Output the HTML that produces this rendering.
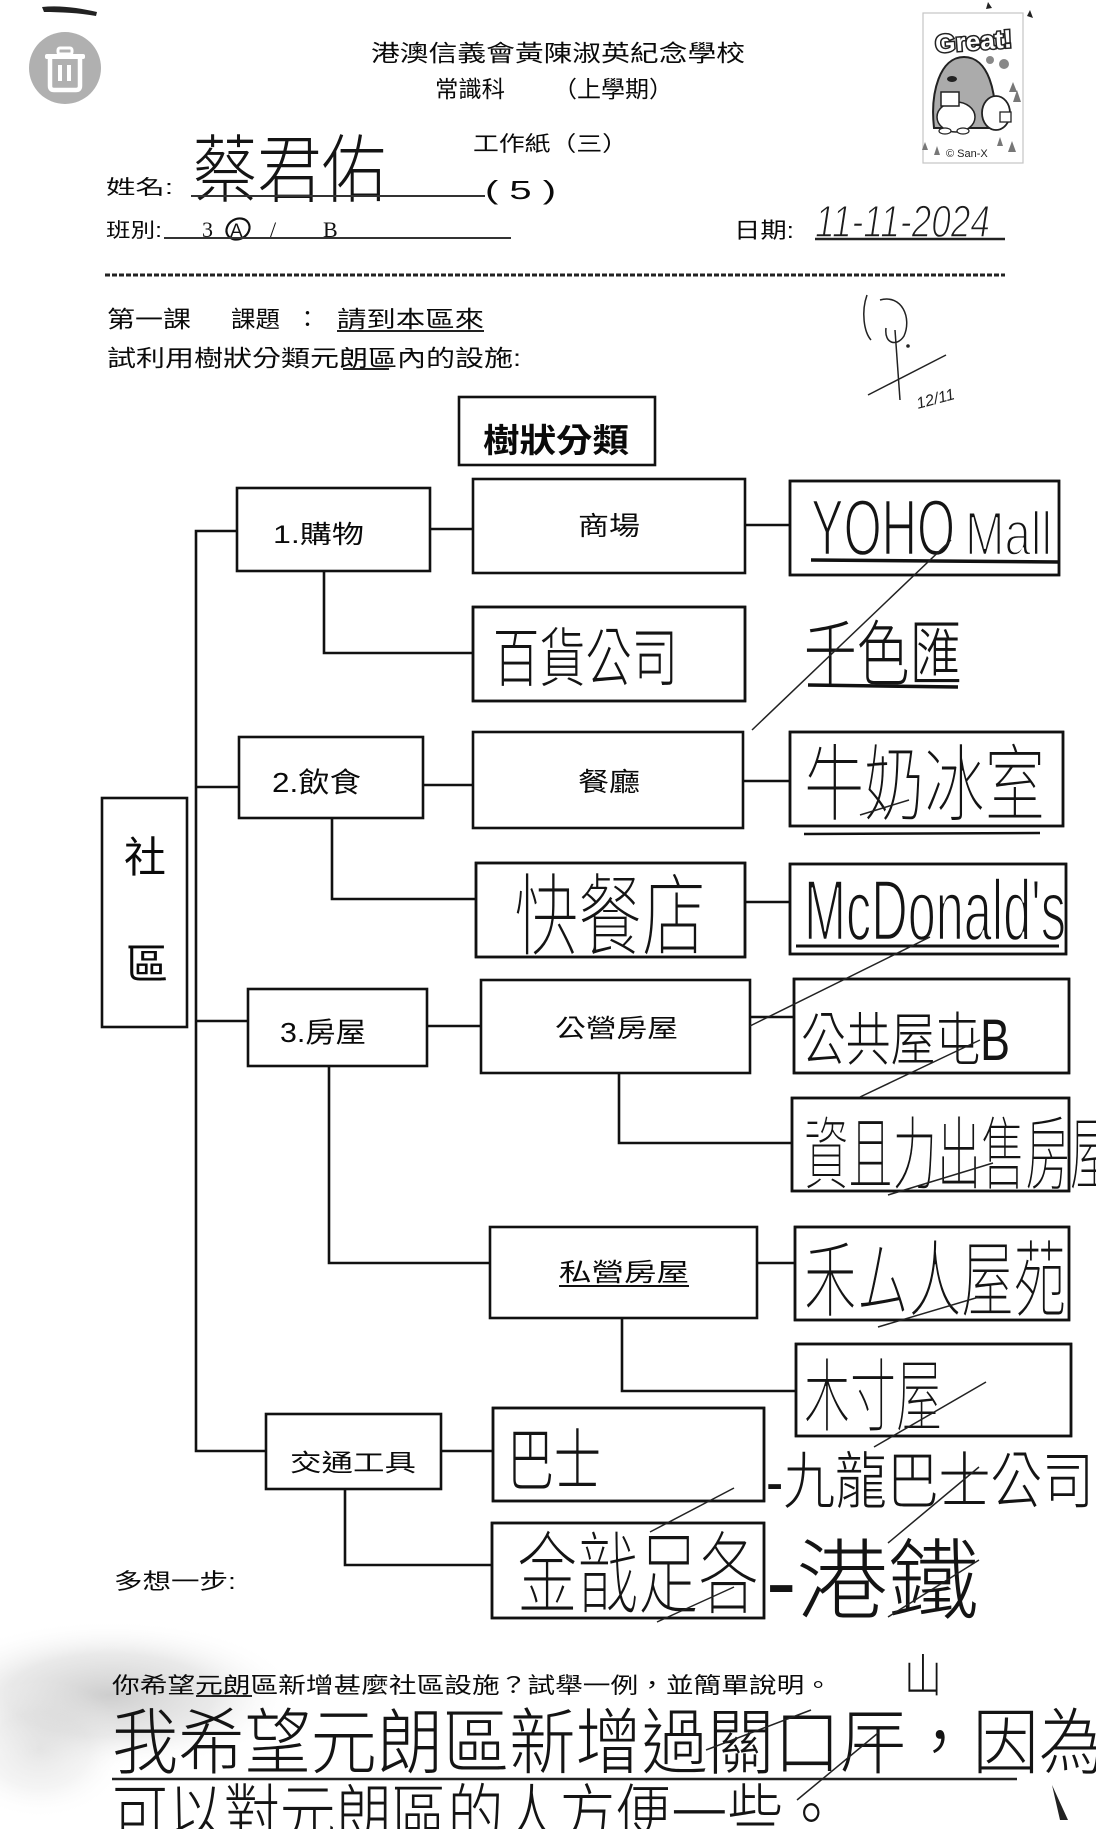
<!DOCTYPE html>
<html><head><meta charset="utf-8">
<style>
html,body{margin:0;padding:0;background:#fff;}
body{width:1096px;height:1829px;overflow:hidden;}
svg{display:block;}
.p{font-family:"Liberation Sans","Noto Sans CJK TC",sans-serif;fill:#0a0a0a;}
.h{font-family:"Liberation Sans","Noto Sans CJK TC",sans-serif;font-weight:300;fill:#141414;}
.lat{stroke:#fff;stroke-width:2.4;}
.big{stroke:#fff;stroke-width:1.0;}
.b{fill:#fff;stroke:#111;stroke-width:2.6;}
.o{fill:none;stroke:#111;stroke-width:2.6;}
.l{fill:none;stroke:#111;stroke-width:2.6;}
.t{fill:none;stroke:#222;stroke-width:1.5;}
</style></head>
<body>
<svg width="1096" height="1829" viewBox="0 0 1096 1829" xmlns="http://www.w3.org/2000/svg">
<defs>
<radialGradient id="sh" cx="0.5" cy="0.5" r="0.5">
<stop offset="0" stop-color="#bdbdbd" stop-opacity="0.75"/>
<stop offset="0.55" stop-color="#cfcfcf" stop-opacity="0.45"/>
<stop offset="1" stop-color="#ffffff" stop-opacity="0"/>
</radialGradient>
</defs>
<rect width="1096" height="1829" fill="#fff"/>

<!-- bottom-left gray shading -->
<ellipse cx="110" cy="1695" rx="190" ry="75" fill="url(#sh)"/>
<ellipse cx="40" cy="1750" rx="90" ry="70" fill="url(#sh)" opacity="0.5"/>

<!-- top-left mark -->
<path d="M42,7 C60,5 80,8 97,12 L96,16 C80,13 60,12 44,12 Z" fill="#222"/>

<!-- trash circle -->
<circle cx="65" cy="68" r="36" fill="#b0b0b0"/>
<rect x="58" y="48" width="14" height="6" rx="2" fill="none" stroke="#fff" stroke-width="3"/>
<rect x="45" y="54" width="40" height="5" rx="2" fill="#fff"/>
<path d="M50,59 L50,86 Q50,90 54,90 L76,90 Q80,90 80,86 L80,59" fill="none" stroke="#fff" stroke-width="4.5"/>
<rect x="58" y="65" width="4" height="16" fill="#fff"/>
<rect x="67" y="65" width="4" height="16" fill="#fff"/>

<!-- header text -->
<text class="p" x="371" y="61" font-size="23" textLength="374" lengthAdjust="spacingAndGlyphs">港澳信義會黃陳淑英紀念學校</text>
<text class="p" x="435" y="97" font-size="23" textLength="70" lengthAdjust="spacingAndGlyphs">常識科</text>
<text class="p" x="553" y="97" font-size="23" textLength="120" lengthAdjust="spacingAndGlyphs">（上學期）</text>
<text class="p" x="473" y="151" font-size="21" textLength="155" lengthAdjust="spacingAndGlyphs">工作紙（三）</text>

<text class="p" x="106" y="194" font-size="20" textLength="67" lengthAdjust="spacingAndGlyphs">姓名:</text>
<text class="h" x="193" y="196" font-size="74" textLength="193" lengthAdjust="spacingAndGlyphs">蔡君佑</text>
<line x1="191" y1="196" x2="485" y2="196" stroke="#333" stroke-width="2"/>
<text class="p" x="485" y="199" font-size="26" textLength="71" lengthAdjust="spacingAndGlyphs">( 5 )</text>

<text class="p" x="106" y="237" font-size="20" textLength="56" lengthAdjust="spacingAndGlyphs">班別:</text>
<text x="202" y="237" font-size="22" font-family="Liberation Serif,serif" fill="#111">3</text>
<ellipse cx="238" cy="229" rx="12" ry="10" fill="none" stroke="#111" stroke-width="2.2" transform="rotate(-30 238 229)"/>
<text x="230" y="237" font-size="19" font-family="Liberation Sans,sans-serif" fill="#111">A</text>
<text x="270" y="237" font-size="22" font-family="Liberation Serif,serif" fill="#111">/</text>
<text x="323" y="237" font-size="22" font-family="Liberation Serif,serif" fill="#111">B</text>
<line x1="164" y1="238" x2="511" y2="238" stroke="#333" stroke-width="2"/>

<text class="p" x="734" y="238" font-size="22" textLength="60" lengthAdjust="spacingAndGlyphs">日期:</text>
<text x="815" y="237" font-size="45" font-style="italic" font-family="Liberation Sans,sans-serif" fill="#1c1c1c" stroke="#fff" stroke-width="1.4" textLength="175" lengthAdjust="spacingAndGlyphs">11-11-2024</text>
<line x1="815" y1="239" x2="1005" y2="239" stroke="#222" stroke-width="2.5"/>

<!-- sticker -->
<rect x="923" y="13" width="100" height="150" fill="#fff" stroke="#c4c4c4" stroke-width="1.2"/>
<path d="M988,2 L992,8 L986,9 Z M1030,10 L1033,18 L1027,16 Z" fill="#222"/>
<text x="935" y="50" font-size="25" font-weight="bold" font-family="Liberation Sans,sans-serif" fill="#fff" stroke="#222" stroke-width="3" paint-order="stroke" textLength="77" lengthAdjust="spacingAndGlyphs" transform="rotate(-4 972 40)">Great!</text>
<path d="M934,128 C930,92 940,57 964,57 C988,57 998,92 994,128 Z" fill="#ababab" stroke="#222" stroke-width="2"/>
<ellipse cx="956" cy="117" rx="19" ry="15" fill="#fff" stroke="#222" stroke-width="1.5"/>
<ellipse cx="952" cy="79" rx="5" ry="3" fill="#222"/>
<rect x="941" y="92" width="18" height="14" fill="#fff" stroke="#222" stroke-width="1.5"/>
<ellipse cx="945" cy="131" rx="6" ry="3" fill="#fff" stroke="#222" stroke-width="1.2"/>
<ellipse cx="963" cy="131" rx="6" ry="3" fill="#fff" stroke="#222" stroke-width="1.2"/>
<ellipse cx="996" cy="113" rx="14" ry="17" fill="#fff" stroke="#222" stroke-width="1.8"/>
<rect x="1000" y="112" width="11" height="10" fill="#fff" stroke="#222" stroke-width="1.3"/>
<circle cx="990" cy="60" r="4" fill="#888"/>
<circle cx="1004" cy="64" r="5" fill="#888"/>
<path d="M1013,82 l4,10 h-8 Z M1017,90 l4,12 h-8 Z M925,142 l3,8 h-6 Z M937,146 l3,9 h-6 Z M1000,137 l3,9 h-6 Z M1012,141 l4,11 h-8 Z" fill="#777"/>
<text x="946" y="157" font-size="11" font-family="Liberation Sans,sans-serif" fill="#222">© San-X</text>

<!-- dashed separator -->
<line x1="105" y1="275" x2="1005" y2="275" stroke="#222" stroke-width="3" stroke-dasharray="5 2"/>

<text class="p" x="107" y="327" font-size="23" textLength="84" lengthAdjust="spacingAndGlyphs">第一課</text>
<text class="p" x="231" y="327" font-size="23" textLength="49" lengthAdjust="spacingAndGlyphs">課題</text>
<text class="p" x="296" y="327" font-size="23">：</text>
<text class="p" x="337" y="327" font-size="23" textLength="147" lengthAdjust="spacingAndGlyphs">請到本區來</text>
<line x1="337" y1="331" x2="484" y2="331" stroke="#222" stroke-width="2"/>
<text class="p" x="107" y="366" font-size="23" textLength="414" lengthAdjust="spacingAndGlyphs">試利用樹狀分類元朗區內的設施:</text>
<line x1="343" y1="369" x2="389" y2="369" stroke="#222" stroke-width="2"/>

<!-- signature -->
<path d="M867,295 C861,312 864,332 871,340" class="t" stroke-width="2.4"/>
<path d="M880,300 C902,294 912,318 904,336 C897,347 884,344 886,328" class="t" stroke-width="2.4"/>
<path d="M895,330 L900,400" class="t" stroke-width="2.4"/>
<path d="M868,395 L946,355" class="t" stroke-width="2.4"/>
<circle cx="908" cy="346" r="1.8" fill="#222"/>
<text x="915" y="404" font-size="16" font-style="italic" font-family="Liberation Sans,sans-serif" fill="#222" transform="rotate(-15 935 395)">12/11</text>

<!-- title box -->
<rect class="b" x="459" y="397" width="196" height="68"/>
<text class="p" x="483" y="452" font-size="33" font-weight="bold" textLength="146" lengthAdjust="spacingAndGlyphs">樹狀分類</text>

<!-- connectors -->
<polyline class="l" points="237,531 196,531 196,1451 266,1451"/>
<line class="l" x1="196" y1="787" x2="239" y2="787"/>
<line class="l" x1="196" y1="1021" x2="248" y2="1021"/>
<line class="l" x1="430" y1="529" x2="473" y2="529"/>
<line class="l" x1="745" y1="525" x2="790" y2="525"/>
<polyline class="l" points="324,571 324,653 473,653"/>
<line class="l" x1="423" y1="785" x2="473" y2="785"/>
<line class="l" x1="743" y1="781" x2="790" y2="781"/>
<polyline class="l" points="332,818 332,899 476,899"/>
<line class="l" x1="745" y1="902" x2="790" y2="902"/>
<line class="l" x1="427" y1="1026" x2="481" y2="1026"/>
<line class="l" x1="750" y1="1017" x2="794" y2="1017"/>
<polyline class="l" points="619,1073 619,1143 792,1143"/>
<polyline class="l" points="329,1066 329,1263 490,1263"/>
<line class="l" x1="757" y1="1263" x2="795" y2="1263"/>
<polyline class="l" points="622,1318 622,1391 796,1391"/>
<line class="l" x1="441" y1="1451" x2="493" y2="1451"/>
<polyline class="l" points="345,1489 345,1565 492,1565"/>

<!-- boxes -->
<rect class="b" x="102" y="798" width="85" height="229"/>
<rect class="b" x="237" y="488" width="193" height="83"/>
<rect class="b" x="473" y="479" width="272" height="94"/>
<rect class="b" x="790" y="481" width="269" height="94"/>
<rect class="b" x="473" y="607" width="272" height="94"/>
<rect class="b" x="239" y="737" width="184" height="81"/>
<rect class="b" x="473" y="732" width="270" height="96"/>
<rect class="b" x="790" y="732" width="273" height="94"/>
<rect class="b" x="476" y="863" width="269" height="94"/>
<rect class="b" x="790" y="864" width="276" height="90"/>
<rect class="b" x="248" y="989" width="179" height="77"/>
<rect class="b" x="481" y="980" width="269" height="93"/>
<rect class="b" x="794" y="979" width="275" height="94"/>
<rect class="b" x="792" y="1098" width="277" height="93"/>
<rect class="b" x="490" y="1227" width="267" height="91"/>
<rect class="b" x="795" y="1227" width="274" height="93"/>
<rect class="b" x="796" y="1344" width="275" height="92"/>
<rect class="b" x="266" y="1414" width="175" height="75"/>
<rect class="b" x="493" y="1408" width="271" height="93"/>
<rect class="b" x="492" y="1523" width="272" height="95"/>

<!-- printed labels in boxes -->
<text class="p" x="145" y="872" font-size="42" text-anchor="middle">社</text>
<text class="p" x="147" y="979" font-size="42" text-anchor="middle">區</text>
<text class="p" x="273" y="543" font-size="25" textLength="91" lengthAdjust="spacingAndGlyphs">1.購物</text>
<text class="p" x="578" y="535" font-size="26" textLength="62" lengthAdjust="spacingAndGlyphs">商場</text>
<text class="p" x="272" y="792" font-size="28" textLength="89" lengthAdjust="spacingAndGlyphs">2.飲食</text>
<text class="p" x="578" y="791" font-size="26" textLength="62" lengthAdjust="spacingAndGlyphs">餐廳</text>
<text class="p" x="280" y="1042" font-size="28" textLength="86" lengthAdjust="spacingAndGlyphs">3.房屋</text>
<text class="p" x="555" y="1037" font-size="25" textLength="123" lengthAdjust="spacingAndGlyphs">公營房屋</text>
<text class="p" x="559" y="1281" font-size="25" textLength="130" lengthAdjust="spacingAndGlyphs">私營房屋</text>
<line x1="559" y1="1286" x2="689" y2="1286" stroke="#111" stroke-width="2"/>
<text class="p" x="290" y="1471" font-size="24" textLength="126" lengthAdjust="spacingAndGlyphs">交通工具</text>

<!-- handwritten entries -->
<text class="h lat" x="811" y="555" font-size="80" textLength="144" lengthAdjust="spacingAndGlyphs">YOHO</text>
<text class="h lat" x="965" y="555" font-size="62" textLength="87" lengthAdjust="spacingAndGlyphs">Mall</text>
<text class="h" x="493" y="681" font-size="64" textLength="185" lengthAdjust="spacingAndGlyphs">百貨公司</text>
<text class="h" x="804" y="680" font-size="72" textLength="158" lengthAdjust="spacingAndGlyphs">千色匯</text>
<text class="h big" x="804" y="814" font-size="84" textLength="241" lengthAdjust="spacingAndGlyphs">牛奶冰室</text>
<text class="h big" x="514" y="948" font-size="90" textLength="192" lengthAdjust="spacingAndGlyphs">快餐店</text>
<text class="h lat" x="804" y="940" font-size="86" textLength="262" lengthAdjust="spacingAndGlyphs">McDonald's</text>
<text class="h" x="801" y="1060" font-size="58" textLength="209" lengthAdjust="spacingAndGlyphs">公共屋屯B</text>
<text class="h big" x="804" y="1183" font-size="80" textLength="310" lengthAdjust="spacingAndGlyphs">資且力出售房屋</text>
<text class="h big" x="804" y="1310" font-size="84" textLength="262" lengthAdjust="spacingAndGlyphs">禾ム人屋苑</text>
<text class="h big" x="804" y="1425" font-size="80" textLength="138" lengthAdjust="spacingAndGlyphs">木寸屋</text>
<text class="h" x="507" y="1485" font-size="68" textLength="94" lengthAdjust="spacingAndGlyphs">巴士</text>
<text class="h" x="766" y="1503" font-size="62" textLength="328" lengthAdjust="spacingAndGlyphs">-九龍巴士公司</text>
<text class="h big" x="517" y="1606" font-size="90" textLength="242" lengthAdjust="spacingAndGlyphs">金戠足各</text>
<text class="h" x="766" y="1612" font-size="88" textLength="213" lengthAdjust="spacingAndGlyphs">-港鐵</text>

<!-- redraw box outlines over handwriting -->
<rect class="o" x="790" y="481" width="269" height="94"/>
<rect class="o" x="473" y="607" width="272" height="94"/>
<rect class="o" x="790" y="732" width="273" height="94"/>
<rect class="o" x="476" y="863" width="269" height="94"/>
<rect class="o" x="790" y="864" width="276" height="90"/>
<rect class="o" x="794" y="979" width="275" height="94"/>
<rect class="o" x="792" y="1098" width="277" height="93"/>
<rect class="o" x="795" y="1227" width="274" height="93"/>
<rect class="o" x="796" y="1344" width="275" height="92"/>
<rect class="o" x="493" y="1408" width="271" height="93"/>
<rect class="o" x="492" y="1523" width="272" height="95"/>

<!-- handwritten underlines -->
<path d="M811,560 L1059,562" stroke="#111" stroke-width="3.5" fill="none"/>
<path d="M808,685 L958,687" stroke="#111" stroke-width="3.5" fill="none"/>
<path d="M804,834 L1040,833" stroke="#111" stroke-width="2.5" fill="none"/>
<path d="M796,946 L1059,946" stroke="#111" stroke-width="3" fill="none"/>

<!-- teacher tick strokes -->
<line class="t" x1="752" y1="730" x2="951" y2="540"/>
<line class="t" x1="860" y1="815" x2="909" y2="800"/>
<line class="t" x1="750" y1="1026" x2="930" y2="937"/>
<line class="t" x1="860" y1="1097" x2="980" y2="1040"/>
<line class="t" x1="888" y1="1195" x2="993" y2="1163"/>
<line class="t" x1="878" y1="1327" x2="979" y2="1297"/>
<line class="t" x1="874" y1="1447" x2="986" y2="1382"/>
<line class="t" x1="650" y1="1532" x2="734" y2="1488"/>
<line class="t" x1="888" y1="1543" x2="979" y2="1467"/>
<line class="t" x1="657" y1="1622" x2="734" y2="1587"/>
<line class="t" x1="888" y1="1617" x2="979" y2="1560"/>

<!-- 多想一步 -->
<text class="p" x="114" y="1589" font-size="22" textLength="122" lengthAdjust="spacingAndGlyphs">多想一步:</text>

<text class="p" x="112" y="1693" font-size="22" textLength="720" lengthAdjust="spacingAndGlyphs">你希望元朗區新增甚麼社區設施？試舉一例，並簡單說明。</text>
<line x1="196" y1="1696" x2="252" y2="1696" stroke="#222" stroke-width="2"/>
<text class="h" x="904" y="1692" font-size="46" textLength="38" lengthAdjust="spacingAndGlyphs">山</text>

<text class="h" x="112" y="1768" font-size="72" textLength="993" lengthAdjust="spacingAndGlyphs">我希望元朗區新增過關口厈，因為</text>
<line x1="112" y1="1779" x2="1017" y2="1779" stroke="#222" stroke-width="2.5"/>
<line class="t" x1="706" y1="1750" x2="811" y2="1710"/>
<line class="t" x1="797" y1="1800" x2="878" y2="1733"/>
<text class="h" x="112" y="1837" font-size="64" textLength="727" lengthAdjust="spacingAndGlyphs">可以對元朗區的人方便一些。</text>
<path d="M1052,1785 L1060,1820 L1068,1820 Z" fill="#222"/>
</svg>
</body></html>
